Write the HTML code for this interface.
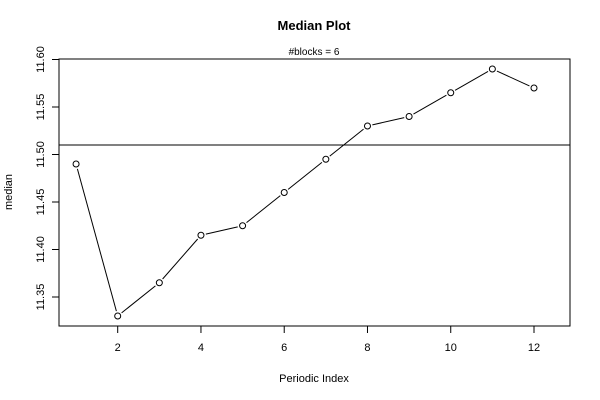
<!DOCTYPE html>
<html><head><meta charset="utf-8"><style>
body{margin:0;background:#fff;}
svg{display:block;font-family:"Liberation Sans",Arial,sans-serif;}
</style></head><body>
<svg id="c" width="600" height="400">
<rect x="59" y="59" width="511" height="267" fill="none" stroke="#000"/>
<text x="314" y="30" text-anchor="middle" font-weight="bold" font-size="13">Median Plot</text>
<text x="314" y="55" text-anchor="middle" font-size="10">#blocks =  6</text>
<text x="314" y="382" text-anchor="middle" font-size="11">Periodic Index</text>
<text x="0" y="0" transform="translate(12,192) rotate(-90)" text-anchor="middle" font-size="11">median</text>
<g id="g"></g>
</svg>
<script>
const xValues=[1,2,3,4,5,6,7,8,9,10,11,12];
const medians=[11.49,11.33,11.365,11.415,11.425,11.46,11.495,11.53,11.54,11.565,11.59,11.57];
const refLine=[11.51];
const xTicks=[2,4,6,8,10,12];
const yTicks=[11.35,11.40,11.45,11.50,11.55,11.60];
const X=v=>117.7+(v-2)*41.63;
const Y=v=>297-(v-11.35)/0.05*47.5;
const g=document.getElementById('g');const NS='http://www.w3.org/2000/svg';
function mk(t,a){const e=document.createElementNS(NS,t);for(const k in a)e.setAttribute(k,a[k]);g.appendChild(e);return e;}
xTicks.forEach(t=>{
 const l=mk('line',{x1:X(t),x2:X(t),y1:326,y2:333,stroke:'#000'});
 
 
 const tx=mk('text',{x:X(t),y:351,'text-anchor':'middle','font-size':'11'});tx.textContent=t;
 
 
});
yTicks.forEach(t=>{
 const l=mk('line',{x1:52,x2:59,y1:Y(t),y2:Y(t),stroke:'#000'});
 
 
 const tx=mk('text',{x:0,y:0,transform:`translate(44,${Y(t)}) rotate(-90)`,'text-anchor':'middle','font-size':'11'});tx.textContent=t.toFixed(2);
 
 
});
refLine.forEach(v=>{
 const l=mk('line',{x1:59,x2:570,y1:Y(v),y2:Y(v),stroke:'#000'});
 
 
});
for(let i=0;i<medians.length-1;i++){
 const x1=X(xValues[i]),y1=Y(medians[i]),x2=X(xValues[i+1]),y2=Y(medians[i+1]);
 const d=Math.hypot(x2-x1,y2-y1),ux=(x2-x1)/d,uy=(y2-y1)/d,r=5;
 const l=mk('line',{x1:x1+ux*r,y1:y1+uy*r,x2:x2-ux*r,y2:y2-uy*r,stroke:'#000'});
 
 
}
medians.forEach((v,i)=>{
 const c=mk('circle',{cx:X(xValues[i]),cy:Y(v),r:3,fill:'none',stroke:'#000'});
 
 
});
</script>
</body></html>
